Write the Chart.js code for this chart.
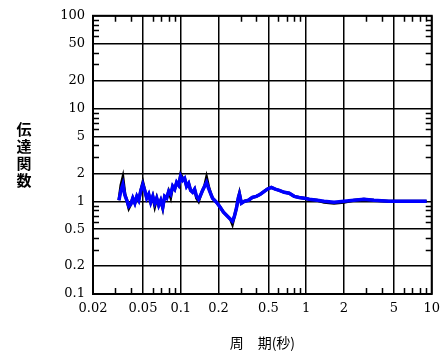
<!DOCTYPE html>
<html>
<head>
<meta charset="utf-8">
<script src="https://cdn.jsdelivr.net/npm/chart.js@4/dist/chart.umd.min.js"></script>
<style>
	html, body { margin: 0; padding: 0; background: #ffffff; }
	#wrap { width: 447px; height: 359px; }
</style>
</head>
<body>
<div id="wrap"><canvas id="tf-chart"></canvas></div>
<script>
// 周期 (秒)
const periods = [
	0.0322, 0.0334, 0.0346, 0.0359, 0.0372, 0.0386, 0.0400, 0.0415, 0.0431, 0.0447,
	0.0463, 0.0481, 0.0499, 0.0517, 0.0536, 0.0556, 0.0577, 0.0599, 0.0621, 0.0644,
	0.0668, 0.0693, 0.0719, 0.0745, 0.0773, 0.0802, 0.0832, 0.0863, 0.0895, 0.0928,
	0.0963, 0.0999, 0.1036, 0.1074, 0.1114, 0.1156, 0.1199, 0.1244, 0.1290, 0.1338,
	0.1388, 0.1439, 0.1493, 0.1548, 0.1606, 0.1666, 0.1728, 0.1792, 0.1859, 0.1928,
	0.2037, 0.2192, 0.2358, 0.2490, 0.2583, 0.2679, 0.2779, 0.2882, 0.2936, 0.3045,
	0.3217, 0.3461, 0.3722, 0.4004, 0.4308, 0.4635, 0.4896, 0.5267, 0.5666, 0.6096,
	0.668, 0.732, 0.802, 0.879, 0.963, 1.055, 1.221, 1.388, 1.666, 2.0,
	2.40, 2.88, 3.46, 4.55, 5.99, 9.11,
];

// 伝達関数 — 青
const blueValues = [
	1.025, 1.31, 1.52, 1.16, 1.025, 0.884, 0.928, 1.08, 0.952, 1.13,
	1.025, 1.31, 1.52, 1.31, 1.08, 1.19, 0.975, 1.13, 0.952, 1.08,
	0.906, 1.025, 0.862, 1.13, 1.08, 1.28, 1.19, 1.45, 1.35, 1.60,
	1.49, 1.86, 1.68, 1.77, 1.45, 1.56, 1.31, 1.25, 1.35, 1.13,
	1.05, 1.16, 1.31, 1.45, 1.60, 1.38, 1.22, 1.08, 1.025, 0.975,
	0.884, 0.762, 0.690, 0.640, 0.610, 0.690, 0.841, 1.10, 1.19, 0.952,
	1.0, 1.025, 1.10, 1.13, 1.19, 1.28, 1.35, 1.41, 1.35, 1.31,
	1.25, 1.22, 1.13, 1.10, 1.08, 1.05, 1.025, 1.0, 0.975, 1.0,
	1.025, 1.05, 1.025, 1.0, 1.0, 1.0,
];

// 伝達関数 — 黒
const blackValues = [
	1.025, 1.49, 1.81, 1.19, 1.025, 0.841, 0.928, 1.08, 0.952, 1.13,
	1.025, 1.31, 1.60, 1.31, 1.08, 1.19, 0.975, 1.13, 0.884, 1.08,
	0.906, 1.025, 0.841, 1.13, 1.08, 1.28, 1.10, 1.45, 1.35, 1.60,
	1.49, 1.95, 1.77, 1.77, 1.45, 1.56, 1.31, 1.25, 1.35, 1.08,
	1.0, 1.16, 1.31, 1.45, 1.81, 1.45, 1.22, 1.08, 1.025, 0.975,
	0.884, 0.762, 0.690, 0.640, 0.566, 0.690, 0.841, 1.10, 1.22, 0.952,
	1.0, 1.025, 1.10, 1.13, 1.19, 1.28, 1.35, 1.41, 1.35, 1.31,
	1.25, 1.22, 1.13, 1.10, 1.08, 1.05, 1.025, 0.975, 0.952, 0.975,
	1.025, 1.05, 1.025, 1.0, 1.0, 1.0,
];

const xTickValues = [ 0.02, 0.05, 0.1, 0.2, 0.5, 1, 2, 5, 10 ];
const yTickValues = [ 0.1, 0.2, 0.5, 1, 2, 5, 10, 20, 50, 100 ];

const xTitle = '周　期(秒)';
const yTitle = '伝達関数';

const ink = '#000000';
const tickFont = { family: '"DejaVu Serif", serif', size: 13 };

// minor ticks: every 1..9 × 10^n not already a labelled tick
const minorTicks = ( min, max, labelled ) => {
	const out = [];
	for ( let e = Math.floor( Math.log10( min ) ); e <= Math.ceil( Math.log10( max ) ); e++ ) {
		for ( let m = 1; m <= 9; m++ ) {
			const v = m * Math.pow( 10, e );
			if ( v > min * 1.0001 && v < max * 0.9999 && ! labelled.some( ( t ) => Math.abs( t - v ) / v < 1e-6 ) ) {
				out.push( v );
			}
		}
	}
	return out;
};

// frame + inward minor ticks + vertical y title
const framePlugin = {
	id: 'frame',
	afterDatasetsDraw( chart ) {
		const { ctx, chartArea: a, scales } = chart;
		const len = 6;
		ctx.save();
		ctx.strokeStyle = ink;
		ctx.lineWidth = 1.5;
		ctx.beginPath();
		minorTicks( 0.02, 10, xTickValues ).forEach( ( v ) => {
			const px = Math.round( scales.x.getPixelForValue( v ) ) + 0.5;
			ctx.moveTo( px, a.bottom );
			ctx.lineTo( px, a.bottom - len );
			ctx.moveTo( px, a.top );
			ctx.lineTo( px, a.top + len );
		} );
		minorTicks( 0.1, 100, yTickValues ).forEach( ( v ) => {
			const py = Math.round( scales.y.getPixelForValue( v ) ) + 0.5;
			ctx.moveTo( a.left, py );
			ctx.lineTo( a.left + len, py );
			ctx.moveTo( a.right, py );
			ctx.lineTo( a.right - len, py );
		} );
		ctx.stroke();
		ctx.lineWidth = 2;
		ctx.strokeRect( a.left, a.top, a.right - a.left, a.bottom - a.top );
		ctx.restore();
	},
	afterDraw( chart ) {
		const { ctx } = chart;
		const chars = Array.from( yTitle );
		const step = 17;
		const cy = ( chart.chartArea.top + chart.chartArea.bottom ) / 2;
		ctx.save();
		ctx.fillStyle = ink;
		ctx.font = 'bold 15px "Noto Sans CJK JP", sans-serif';
		ctx.textAlign = 'center';
		ctx.textBaseline = 'middle';
		chars.forEach( ( c, i ) => {
			ctx.fillText( c, 24, cy + ( i - ( chars.length - 1 ) / 2 ) * step );
		} );
		ctx.restore();
	},
};

new Chart( document.getElementById( 'tf-chart' ), {
	type: 'line',
	data: {
		datasets: [
			{
				label: 'black',
				data: periods.map( ( p, i ) => ( { x: p, y: blackValues[ i ] } ) ),
				borderColor: '#000000',
				borderWidth: 3,
				pointRadius: 0,
				tension: 0,
				order: 2,
			},
			{
				label: 'blue',
				data: periods.map( ( p, i ) => ( { x: p, y: blueValues[ i ] } ) ),
				borderColor: '#0000ff',
				borderWidth: 3.5,
				pointRadius: 0,
				tension: 0,
				order: 1,
			},
		],
	},
	options: {
		responsive: true,
		maintainAspectRatio: false,
		animation: false,
		layout: { padding: { top: 15, right: 14, left: 0, bottom: 0 } },
		plugins: {
			legend: { display: false },
			tooltip: { enabled: false },
		},
		scales: {
			x: {
				type: 'logarithmic',
				min: 0.02,
				max: 10,
				afterBuildTicks: ( s ) => { s.ticks = xTickValues.map( ( v ) => ( { value: v } ) ); },
				afterFit: ( s ) => { s.height = 65; },
				grid: { color: ink, lineWidth: 1.5, drawTicks: false },
				border: { display: false },
				ticks: {
					autoSkip: false,
					maxRotation: 0,
					padding: 7,
					color: ink,
					font: tickFont,
					callback: ( v ) => String( v ),
				},
				title: {
					display: true,
					text: xTitle,
					color: ink,
					font: { family: '"Noto Sans CJK JP", sans-serif', size: 14 },
					padding: { top: 0, bottom: 8 },
				},
			},
			y: {
				type: 'logarithmic',
				min: 0.1,
				max: 100,
				afterBuildTicks: ( s ) => { s.ticks = yTickValues.map( ( v ) => ( { value: v } ) ); },
				afterFit: ( s ) => { s.width = 93; },
				grid: { color: ink, lineWidth: 1.5, drawTicks: false },
				border: { display: false },
				ticks: {
					autoSkip: false,
					padding: 8,
					color: ink,
					font: tickFont,
					callback: ( v ) => String( v ),
				},
			},
		},
	},
	plugins: [ framePlugin ],
} );
</script>
</body>
</html>
